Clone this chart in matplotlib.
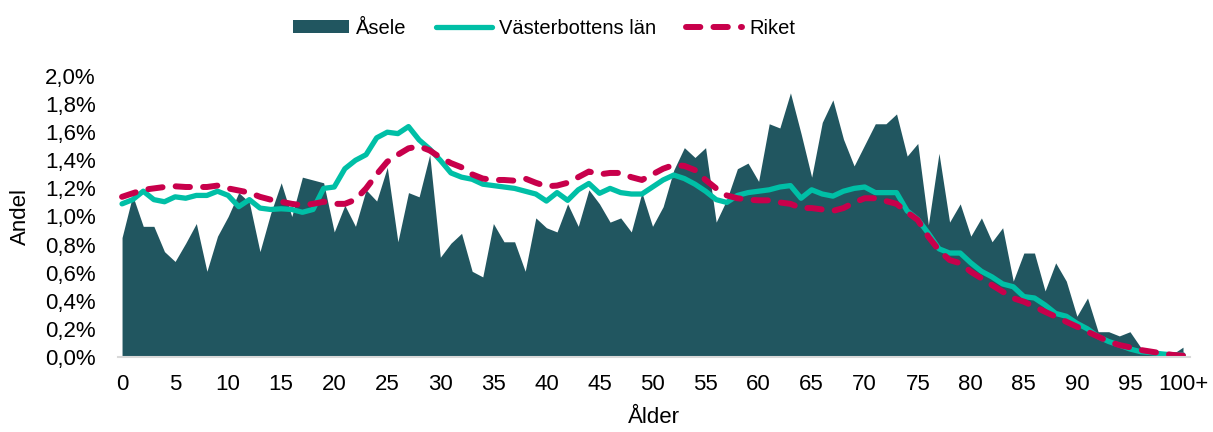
import numpy as np
import matplotlib
matplotlib.use("Agg")
import matplotlib.pyplot as plt
from matplotlib.patches import Patch
from matplotlib.lines import Line2D

plt.rcParams['font.family'] = ['Liberation Sans', 'DejaVu Sans']

# --- Data (andel av befolkningen, %) ---
ages = np.arange(101)
tick_pos = list(range(0, 101, 5))
tick_labels = [str(a) for a in range(0, 100, 5)] + ["100+"]

asele = [0.85, 1.15, 0.93, 0.93, 0.75, 0.68, 0.81, 0.95, 0.61, 0.86,
         1.00, 1.17, 1.10, 0.75, 1.02, 1.24, 1.00, 1.28, 1.26, 1.24,
         0.89, 1.08, 0.93, 1.19, 1.11, 1.35, 0.82, 1.17, 1.14, 1.44,
         0.71, 0.81, 0.88, 0.61, 0.57, 0.95, 0.82, 0.82, 0.61, 0.99,
         0.92, 0.89, 1.09, 0.93, 1.19, 1.09, 0.96, 0.99, 0.89, 1.17,
         0.93, 1.07, 1.33, 1.49, 1.42, 1.49, 0.96, 1.12, 1.34, 1.38,
         1.25, 1.66, 1.63, 1.88, 1.59, 1.28, 1.67, 1.83, 1.55, 1.36,
         1.51, 1.66, 1.66, 1.73, 1.43, 1.52, 0.94, 1.45, 0.96, 1.09,
         0.86, 0.99, 0.82, 0.92, 0.54, 0.74, 0.74, 0.47, 0.67, 0.54,
         0.29, 0.42, 0.18, 0.18, 0.15, 0.18, 0.07, 0.04, 0.02, 0.02,
         0.07]

vasterbotten = [1.09, 1.12, 1.18, 1.12, 1.105, 1.14, 1.13, 1.15, 1.15, 1.18,
                1.15, 1.07, 1.12, 1.06, 1.05, 1.055, 1.05, 1.03, 1.05, 1.20,
                1.21, 1.34, 1.40, 1.44, 1.56, 1.60, 1.59, 1.64, 1.545, 1.48,
                1.40, 1.31, 1.28, 1.265, 1.23, 1.22, 1.21, 1.20, 1.18, 1.16,
                1.11, 1.17, 1.115, 1.19, 1.235, 1.165, 1.20, 1.17, 1.16, 1.16,
                1.21, 1.26, 1.295, 1.27, 1.23, 1.18, 1.12, 1.10, 1.15, 1.17,
                1.18, 1.19, 1.21, 1.22, 1.13, 1.19, 1.16, 1.145, 1.18, 1.20,
                1.21, 1.17, 1.17, 1.17, 1.04, 0.98, 0.88, 0.77, 0.74, 0.74,
                0.67, 0.61, 0.57, 0.52, 0.50, 0.43, 0.42, 0.37, 0.31, 0.29,
                0.24, 0.20, 0.145, 0.11, 0.085, 0.057, 0.038, 0.031, 0.022, 0.015,
                0.015]

riket = [1.14, 1.165, 1.19, 1.20, 1.21, 1.215, 1.21, 1.21, 1.21, 1.22,
         1.20, 1.185, 1.17, 1.14, 1.12, 1.105, 1.09, 1.08, 1.09, 1.105,
         1.09, 1.09, 1.12, 1.20, 1.30, 1.39, 1.44, 1.485, 1.50, 1.47,
         1.42, 1.38, 1.35, 1.30, 1.27, 1.26, 1.26, 1.255, 1.27, 1.24,
         1.215, 1.22, 1.24, 1.28, 1.32, 1.30, 1.31, 1.31, 1.28, 1.26,
         1.30, 1.34, 1.367, 1.36, 1.33, 1.26, 1.20, 1.15, 1.13, 1.12,
         1.115, 1.115, 1.10, 1.09, 1.06, 1.06, 1.05, 1.04, 1.06, 1.10,
         1.13, 1.13, 1.11, 1.09, 1.03, 0.975, 0.856, 0.76, 0.69, 0.667,
         0.607, 0.56, 0.512, 0.465, 0.418, 0.394, 0.358, 0.322, 0.287, 0.251,
         0.216, 0.18, 0.145, 0.109, 0.085, 0.069, 0.05, 0.038, 0.026, 0.015,
         0.01]

c_area = "#215660"
c_green = "#00BFA6"
c_red = "#C8004B"

fig = plt.figure(figsize=(12.13, 4.32), dpi=100)
ax = fig.add_axes([117.8 / 1213, 1 - 357 / 432, (1190 - 117.8) / 1213, (357 - 76) / 432])

ax.fill_between(ages, asele, 0, color=c_area, linewidth=0)
ax.plot(ages, vasterbotten, color=c_green, lw=3.8, solid_capstyle="round", solid_joinstyle="round")
ax.plot(ages, riket, color=c_red, lw=4.3, dashes=(2.4, 2.2), dash_capstyle="round")

ax.set_xlim(-0.4, 100.66)
ax.set_ylim(0, 2.0)
ax.set_yticks(np.arange(0, 2.01, 0.2))
ax.set_yticklabels([f"{v:.1f}%".replace(".", ",") for v in np.arange(0, 2.01, 0.2)])
ax.set_xticks(tick_pos)
ax.set_xticklabels(tick_labels)
ax.tick_params(length=0, labelsize=16, colors="black")
ax.tick_params(axis="y", pad=16)
ax.tick_params(axis="x", pad=12)

for s in ["top", "right", "left"]:
    ax.spines[s].set_visible(False)
ax.spines["bottom"].set_color("#d9d9d9")
ax.spines["bottom"].set_linewidth(1.5)

ax.set_xlabel("Ålder", fontsize=16, labelpad=9)
ax.set_ylabel("Andel", fontsize=16, labelpad=10)

handles = [Patch(facecolor=c_area, edgecolor="none", label="Åsele"),
           Line2D([], [], color=c_green, lw=3.8, solid_capstyle="round", label="Västerbottens län"),
           Line2D([], [], color=c_red, lw=4.3, dashes=(2.4, 2.2), dash_capstyle="round", label="Riket")]
fig.legend(handles=handles, loc="center", bbox_to_anchor=(544 / 1213, 1 - 28 / 432), ncol=3,
           frameon=False, fontsize=14.5, handlelength=2.8, handleheight=0.65,
           handletextpad=0.35, columnspacing=1.45)

fig.savefig("out.png", dpi=100)
